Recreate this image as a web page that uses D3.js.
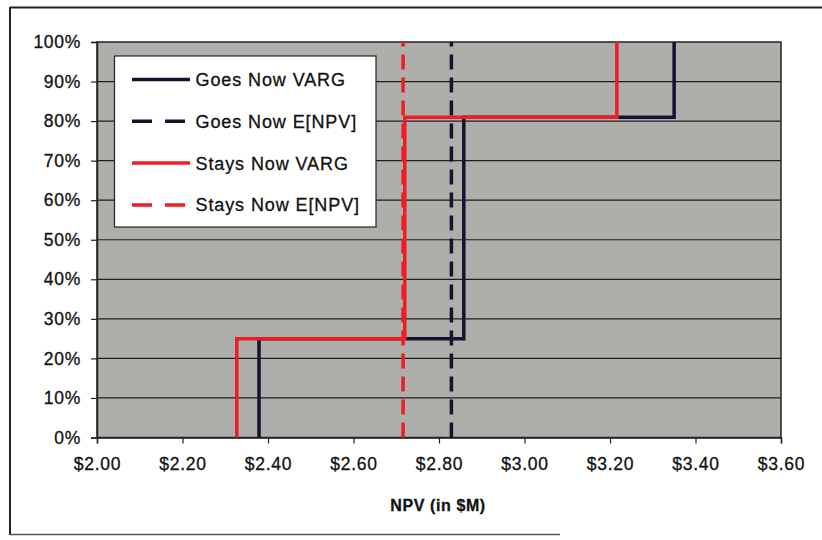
<!DOCTYPE html>
<html>
<head>
<meta charset="utf-8">
<script src="https://cdn.jsdelivr.net/npm/d3@7"></script>
<style>
  html, body { margin: 0; padding: 0; background: #fff; }
  svg { display: block; }
  text { font-family: "Liberation Sans", Arial, sans-serif; fill: #111; stroke: #111; stroke-width: 0.3px; }
</style>
</head>
<body>
<svg id="chart" width="822" height="540"></svg>
<script>
// ---- data ----
const xTicks = [2.0, 2.2, 2.4, 2.6, 2.8, 3.0, 3.2, 3.4, 3.6];
const yTicks = [0, 0.1, 0.2, 0.3, 0.4, 0.5, 0.6, 0.7, 0.8, 0.9, 1.0];
const seriesNames = ["Goes Now VARG", "Goes Now E[NPV]", "Stays Now VARG", "Stays Now E[NPV]"];
// cumulative step curves: NPV values and cumulative probabilities
const goesNPV = [2.379, 2.379, 2.858, 2.858, 3.350, 3.350];
const goesCum = [0, 0.25, 0.25, 0.81, 0.81, 1.0];
const staysNPV = [2.327, 2.327, 2.720, 2.720, 3.216, 3.216];
const staysCum = [0, 0.25, 0.25, 0.81, 0.81, 1.0];
// expected values (vertical dashed lines)
const goesENPV = 2.829;
const staysENPV = 2.716;
const xTitle = "NPV (in $M)";

// ---- layout ----
const svg = d3.select("#chart");
const L = 97, R = 781, T = 42, B = 437.5;
const x = d3.scaleLinear().domain([2.0, 3.6]).range([L, R]);
const y = d3.scaleLinear().domain([0, 1]).range([B, T]);
const navy = "#14142e", red = "#ee1c24";

// outer frame (partial, as in scan)
svg.append("line").attr("x1", 10).attr("x2", 822).attr("y1", 7.5).attr("y2", 7.5).attr("stroke", "#222").attr("stroke-width", 2);
svg.append("line").attr("x1", 10).attr("x2", 10).attr("y1", 7).attr("y2", 535).attr("stroke", "#222").attr("stroke-width", 2);
svg.append("line").attr("x1", 10).attr("x2", 560).attr("y1", 534.5).attr("y2", 534.5).attr("stroke", "#555").attr("stroke-width", 1.5);

// textured gray plot background
const defs = svg.append("defs");
const pat = defs.append("pattern").attr("id", "tex").attr("width", 2).attr("height", 2).attr("patternUnits", "userSpaceOnUse");
pat.append("rect").attr("width", 2).attr("height", 2).attr("fill", "#b6b6b2");
pat.append("rect").attr("width", 1).attr("height", 1).attr("fill", "#a4a4a0");
pat.append("rect").attr("x", 1).attr("y", 1).attr("width", 1).attr("height", 1).attr("fill", "#a8a8a4");
svg.append("rect").attr("x", L).attr("y", T).attr("width", R - L).attr("height", B - T).attr("fill", "url(#tex)");

// gridlines
svg.append("g").selectAll("line").data(yTicks.slice(1, -1)).join("line")
  .attr("x1", L).attr("x2", R)
  .attr("y1", d => y(d)).attr("y2", d => y(d))
  .attr("stroke", "#1e1e1e").attr("stroke-width", 1.2);

// plot border
svg.append("rect").attr("x", L).attr("y", T).attr("width", R - L).attr("height", B - T)
  .attr("fill", "none").attr("stroke", "#222").attr("stroke-width", 1.5);

// axes
const xAxis = svg.append("g").attr("transform", `translate(0,${B})`)
  .call(d3.axisBottom(x).tickValues(xTicks).tickSize(6).tickPadding(14).tickFormat(d => "$" + d3.format(".2f")(d)));
const yAxis = svg.append("g").attr("transform", `translate(${L},0)`)
  .call(d3.axisLeft(y).tickValues(yTicks).tickSize(6).tickPadding(10).tickFormat(d3.format(".0%")));
[xAxis, yAxis].forEach(g => {
  g.select(".domain").attr("stroke", "#222").attr("stroke-width", 1.5);
  g.selectAll(".tick line").attr("stroke", "#222").attr("stroke-width", 1.2);
  g.selectAll(".tick text").attr("font-size", 17.5).attr("letter-spacing", "0.7px").attr("fill", "#111")
    .attr("font-family", "'Liberation Sans', Arial, sans-serif");
});
xAxis.selectAll(".tick text").attr("dy", "0.71em");

// axis title
svg.append("text").attr("x", (L + R) / 2 - 1).attr("y", 511).attr("text-anchor", "middle")
  .attr("font-size", 16).attr("font-weight", "bold").attr("letter-spacing", "0.6px").text(xTitle);

// step lines
const line = d3.line().x(d => x(d[0])).y(d => y(d[1]));
const goesPts = goesNPV.map((v, i) => [v, goesCum[i]]);
const staysPts = staysNPV.map((v, i) => [v, staysCum[i]]);

svg.append("line").attr("x1", x(goesENPV)).attr("x2", x(goesENPV)).attr("y1", y(0)).attr("y2", y(1))
  .attr("stroke", navy).attr("stroke-width", 3.5).attr("stroke-dasharray", "15,8");
svg.append("path").attr("d", line(goesPts)).attr("fill", "none").attr("stroke", navy).attr("stroke-width", 3.5);
svg.append("line").attr("x1", x(staysENPV)).attr("x2", x(staysENPV)).attr("y1", y(0)).attr("y2", y(1))
  .attr("stroke", red).attr("stroke-width", 3.5).attr("stroke-dasharray", "15,8");
svg.append("path").attr("d", line(staysPts)).attr("fill", "none").attr("stroke", red).attr("stroke-width", 3.5);

// legend
const lg = svg.append("g");
lg.append("rect").attr("x", 114.5).attr("y", 56).attr("width", 261.5).attr("height", 171)
  .attr("fill", "#fff").attr("stroke", "#222").attr("stroke-width", 1.2);
const styles = [
  {c: navy, dash: null}, {c: navy, dash: "20,13"},
  {c: red, dash: null}, {c: red, dash: "20,13"}
];
seriesNames.forEach((name, i) => {
  const yy = 79.5 + i * 41.8;
  lg.append("line").attr("x1", 132).attr("x2", 190).attr("y1", yy).attr("y2", yy)
    .attr("stroke", styles[i].c).attr("stroke-width", 3.5)
    .attr("stroke-dasharray", styles[i].dash);
  lg.append("text").attr("x", 195.5).attr("y", yy).attr("dy", "0.36em")
    .attr("font-size", 18).attr("letter-spacing", "0.9px").text(name);
});
</script>
</body>
</html>
